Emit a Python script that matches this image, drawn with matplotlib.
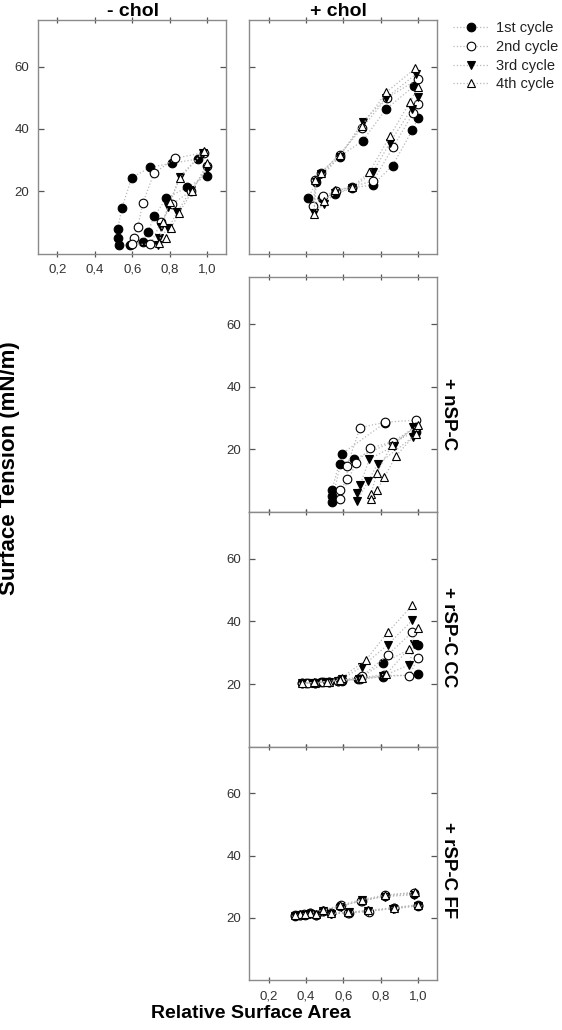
import matplotlib
matplotlib.use("Agg")
import matplotlib.pyplot as plt
from matplotlib.lines import Line2D
from matplotlib.ticker import FuncFormatter

plt.rcParams['font.family'] = ['Liberation Sans', 'DejaVu Sans']

# ---------------- data ----------------
cycle_labels = ["1st cycle", "2nd cycle", "3rd cycle", "4th cycle"]
x_ticks = [0.2, 0.4, 0.6, 0.8, 1.0]
y_ticks = [20, 40, 60]
panel_titles = ["- chol", "+ chol"]
side_labels = ["+ nSP-C", "+ rSP-C CC", "+ rSP-C FF"]

# - chol
minus_chol_x = [
    [0.953, 0.813, 0.697, 0.597, 0.544, 0.522, 0.522, 0.528, 0.590, 0.656, 0.683, 0.718, 0.781, 0.893, 1.000],
    [0.982, 0.830, 0.715, 0.656, 0.629, 0.608, 0.600, 0.697, 0.754, 0.813, 0.914, 1.000],
    [0.975, 0.852, 0.793, 0.754, 0.736, 0.745, 0.793, 0.840, 0.914, 1.000],
    [0.985, 0.856, 0.800, 0.763, 0.745, 0.781, 0.808, 0.847, 0.920, 1.000],
]
minus_chol_y = [
    [30.4, 29.0, 27.7, 24.4, 14.5, 7.9, 4.9, 2.7, 2.7, 3.8, 7.0, 12.0, 17.7, 21.3, 25.0],
    [32.4, 30.6, 25.8, 16.1, 8.6, 4.9, 2.9, 3.0, 10.2, 15.9, 20.1, 28.0],
    [32.2, 24.7, 14.8, 8.4, 2.7, 4.9, 8.1, 13.4, 20.4, 27.0],
    [33.0, 24.4, 16.6, 10.2, 3.3, 4.9, 8.1, 12.9, 20.0, 29.0],
]

# + chol
plus_chol_x = [
    [0.979, 0.829, 0.703, 0.579, 0.455, 0.410, 0.485, 0.556, 0.646, 0.757, 0.863, 0.970, 1.000],
    [1.000, 0.831, 0.698, 0.579, 0.480, 0.450, 0.437, 0.490, 0.560, 0.648, 0.760, 0.867, 0.973, 1.000],
    [0.991, 0.830, 0.703, 0.580, 0.480, 0.455, 0.442, 0.495, 0.556, 0.648, 0.760, 0.849, 0.965, 1.000],
    [0.986, 0.830, 0.698, 0.579, 0.480, 0.450, 0.442, 0.495, 0.556, 0.648, 0.739, 0.849, 0.958, 1.000],
]
plus_chol_y = [
    [53.8, 46.4, 36.2, 31.1, 23.0, 17.7, 17.7, 19.0, 21.1, 22.0, 28.2, 39.7, 43.6],
    [56.0, 49.9, 40.2, 31.7, 26.0, 23.5, 15.3, 18.5, 20.0, 21.5, 23.3, 34.3, 45.0, 48.0],
    [57.7, 50.0, 42.3, 31.0, 25.5, 23.0, 12.9, 15.9, 19.5, 21.0, 26.3, 35.6, 46.4, 50.4],
    [59.5, 51.8, 41.0, 31.7, 26.0, 23.6, 12.7, 17.0, 20.3, 21.5, 26.1, 37.7, 48.8, 53.4],
]

# + nSP-C
nspc_x = [
    [0.822, 0.591, 0.538, 0.538, 0.538, 0.584, 0.659, 0.988],
    [0.988, 0.822, 0.689, 0.620, 0.620, 0.584, 0.580, 0.668, 0.744, 0.863, 0.988],
    [0.975, 0.869, 0.739, 0.689, 0.673, 0.673, 0.733, 0.783, 0.975],
    [1.000, 0.860, 0.780, 0.748, 0.745, 0.780, 0.819, 0.881, 0.990],
]
nspc_y = [
    [28.4, 18.5, 6.9, 5.1, 3.2, 15.3, 16.9, 25.6],
    [29.3, 28.6, 26.9, 14.7, 10.4, 6.9, 4.2, 15.7, 20.3, 22.4, 27.0],
    [27.2, 21.0, 16.8, 8.5, 5.9, 3.5, 9.8, 15.2, 24.0],
    [27.7, 21.5, 12.5, 5.8, 4.0, 6.9, 11.0, 17.8, 25.0],
]

# + rSP-C CC
cc_x = [
    [1.000, 0.810, 0.690, 0.590, 0.520, 0.450, 0.375, 0.400, 0.480, 0.570, 0.680, 0.810, 1.000],
    [0.970, 0.837, 0.700, 0.590, 0.520, 0.450, 0.380, 0.410, 0.490, 0.570, 0.690, 0.820, 0.952, 1.000],
    [0.970, 0.837, 0.698, 0.590, 0.520, 0.450, 0.380, 0.430, 0.500, 0.570, 0.685, 0.810, 0.952, 0.980],
    [0.970, 0.837, 0.721, 0.590, 0.520, 0.450, 0.380, 0.440, 0.510, 0.580, 0.700, 0.830, 0.950, 1.000],
]
cc_y = [
    [32.5, 26.6, 22.0, 21.0, 20.5, 20.3, 20.2, 20.2, 20.5, 21.0, 21.5, 22.3, 23.1],
    [36.6, 29.3, 22.5, 21.2, 20.6, 20.3, 20.2, 20.2, 20.5, 21.0, 21.7, 22.8, 22.7, 28.2],
    [40.4, 32.5, 25.5, 21.5, 20.7, 20.4, 20.3, 20.3, 20.6, 21.0, 21.5, 22.5, 26.1, 32.7],
    [45.2, 36.5, 27.7, 22.0, 20.8, 20.4, 20.3, 20.5, 20.8, 21.2, 22.0, 23.2, 31.2, 37.8],
]

# + rSP-C FF
ff_x = [
    [0.979, 0.822, 0.698, 0.584, 0.490, 0.419, 0.365, 0.339, 0.392, 0.454, 0.534, 0.627, 0.733, 0.869, 1.000],
    [0.980, 0.825, 0.695, 0.586, 0.492, 0.420, 0.367, 0.340, 0.390, 0.452, 0.532, 0.625, 0.735, 0.870, 1.000],
    [0.978, 0.823, 0.700, 0.585, 0.488, 0.418, 0.364, 0.338, 0.391, 0.455, 0.535, 0.628, 0.732, 0.868, 0.998],
    [0.981, 0.821, 0.697, 0.583, 0.491, 0.421, 0.366, 0.341, 0.393, 0.453, 0.533, 0.626, 0.734, 0.871, 1.000],
]
ff_y = [
    [27.6, 27.0, 25.5, 23.8, 22.2, 21.4, 20.9, 20.7, 21.0, 20.9, 21.4, 21.6, 22.2, 23.0, 23.9],
    [28.0, 27.2, 25.3, 24.0, 22.3, 21.5, 21.0, 20.8, 21.1, 21.0, 21.5, 21.5, 22.0, 23.2, 24.0],
    [27.4, 26.8, 25.6, 23.6, 22.1, 21.3, 20.8, 20.6, 20.9, 20.8, 21.3, 21.7, 22.3, 22.9, 23.8],
    [28.2, 27.3, 25.8, 24.1, 22.4, 21.6, 21.1, 20.9, 21.2, 21.1, 21.6, 21.8, 22.4, 23.3, 24.2],
]

# ---------------- style ----------------
markers = ['o', 'o', 'v', '^']
faces = ['black', 'white', 'black', 'white']
line_color = '#b8b8b8'
spine_color = '#8a8a8a'
tick_label_color = '#333333'

W, H = 562, 1030
fig = plt.figure(figsize=(W / 100, H / 100), dpi=100)


def rect(l, t, r, b):
    return [l / W, 1 - b / H, (r - l) / W, (b - t) / H]


ax_m = fig.add_axes(rect(37.7, 20, 226, 253.5))
ax_p = fig.add_axes(rect(249.3, 20, 436.7, 253.5))
ax_n = fig.add_axes(rect(249.3, 277.3, 436.7, 511.7))
ax_c = fig.add_axes(rect(249.3, 511.7, 436.7, 746.7))
ax_f = fig.add_axes(rect(249.3, 746.7, 436.7, 980))

fmt = FuncFormatter(lambda v, p: f"{v:.1f}".replace('.', ','))

panels = [
    (ax_m, minus_chol_x, minus_chol_y, True, True),
    (ax_p, plus_chol_x, plus_chol_y, False, False),
    (ax_n, nspc_x, nspc_y, True, False),
    (ax_c, cc_x, cc_y, True, False),
    (ax_f, ff_x, ff_y, True, True),
]

for ax, xs, ys, ylab, xlab in panels:
    for i in range(4):
        ax.plot(xs[i], ys[i], linestyle=':', color=line_color, linewidth=0.9,
                marker=markers[i], markersize=6.2, markerfacecolor=faces[i],
                markeredgecolor='black', markeredgewidth=0.8, zorder=2 + i)
    ax.set_xlim(0.095, 1.1)
    ax.set_ylim(0, 75)
    ax.set_xticks(x_ticks)
    ax.set_yticks(y_ticks)
    ax.xaxis.set_major_formatter(fmt)
    for s in ax.spines.values():
        s.set_color(spine_color)
        s.set_linewidth(1.0)
    ax.tick_params(axis='x', direction='inout', length=5, width=0.9, color='#555555',
                   top=True, bottom=True, labelsize=9.5, labelcolor=tick_label_color,
                   labelbottom=xlab, pad=5)
    ax.tick_params(axis='y', direction='in', length=4, width=0.9, color='#555555',
                   left=True, right=True, labelsize=9.5, labelcolor=tick_label_color,
                   labelleft=ylab, pad=6)

# titles
fig.text(133 / W, 1 - 11 / H, panel_titles[0], ha='center', va='center',
         fontsize=14, fontweight='bold')
fig.text(338 / W, 1 - 11 / H, panel_titles[1], ha='center', va='center',
         fontsize=14, fontweight='bold')

# side labels
for lab, yc in zip(side_labels, [414, 637, 870]):
    fig.text(448 / W, 1 - yc / H, lab, ha='center', va='center', rotation=-90,
             fontsize=13.5, fontweight='bold')

# axis labels
fig.text(10 / W, 1 - 468 / H, "Surface Tension (mN/m)", ha='center', va='center',
         rotation=90, fontsize=16, fontweight='bold')
fig.text(251 / W, 1 - 1013 / H, "Relative Surface Area", ha='center', va='center',
         fontsize=14, fontweight='bold')

# legend
handles = [Line2D([0], [0], linestyle=':', color=line_color, linewidth=0.9,
                  marker=markers[i], markersize=6.2, markerfacecolor=faces[i],
                  markeredgecolor='black', markeredgewidth=0.8) for i in range(4)]
fig.legend(handles, cycle_labels, loc='upper left',
           bbox_to_anchor=(446 / W, 1 - 14 / H), frameon=False, fontsize=10.5,
           handlelength=2.4, handletextpad=0.5, labelspacing=0.32, borderpad=0,
           labelcolor='#222222')

fig.savefig("out.png", dpi=100)
